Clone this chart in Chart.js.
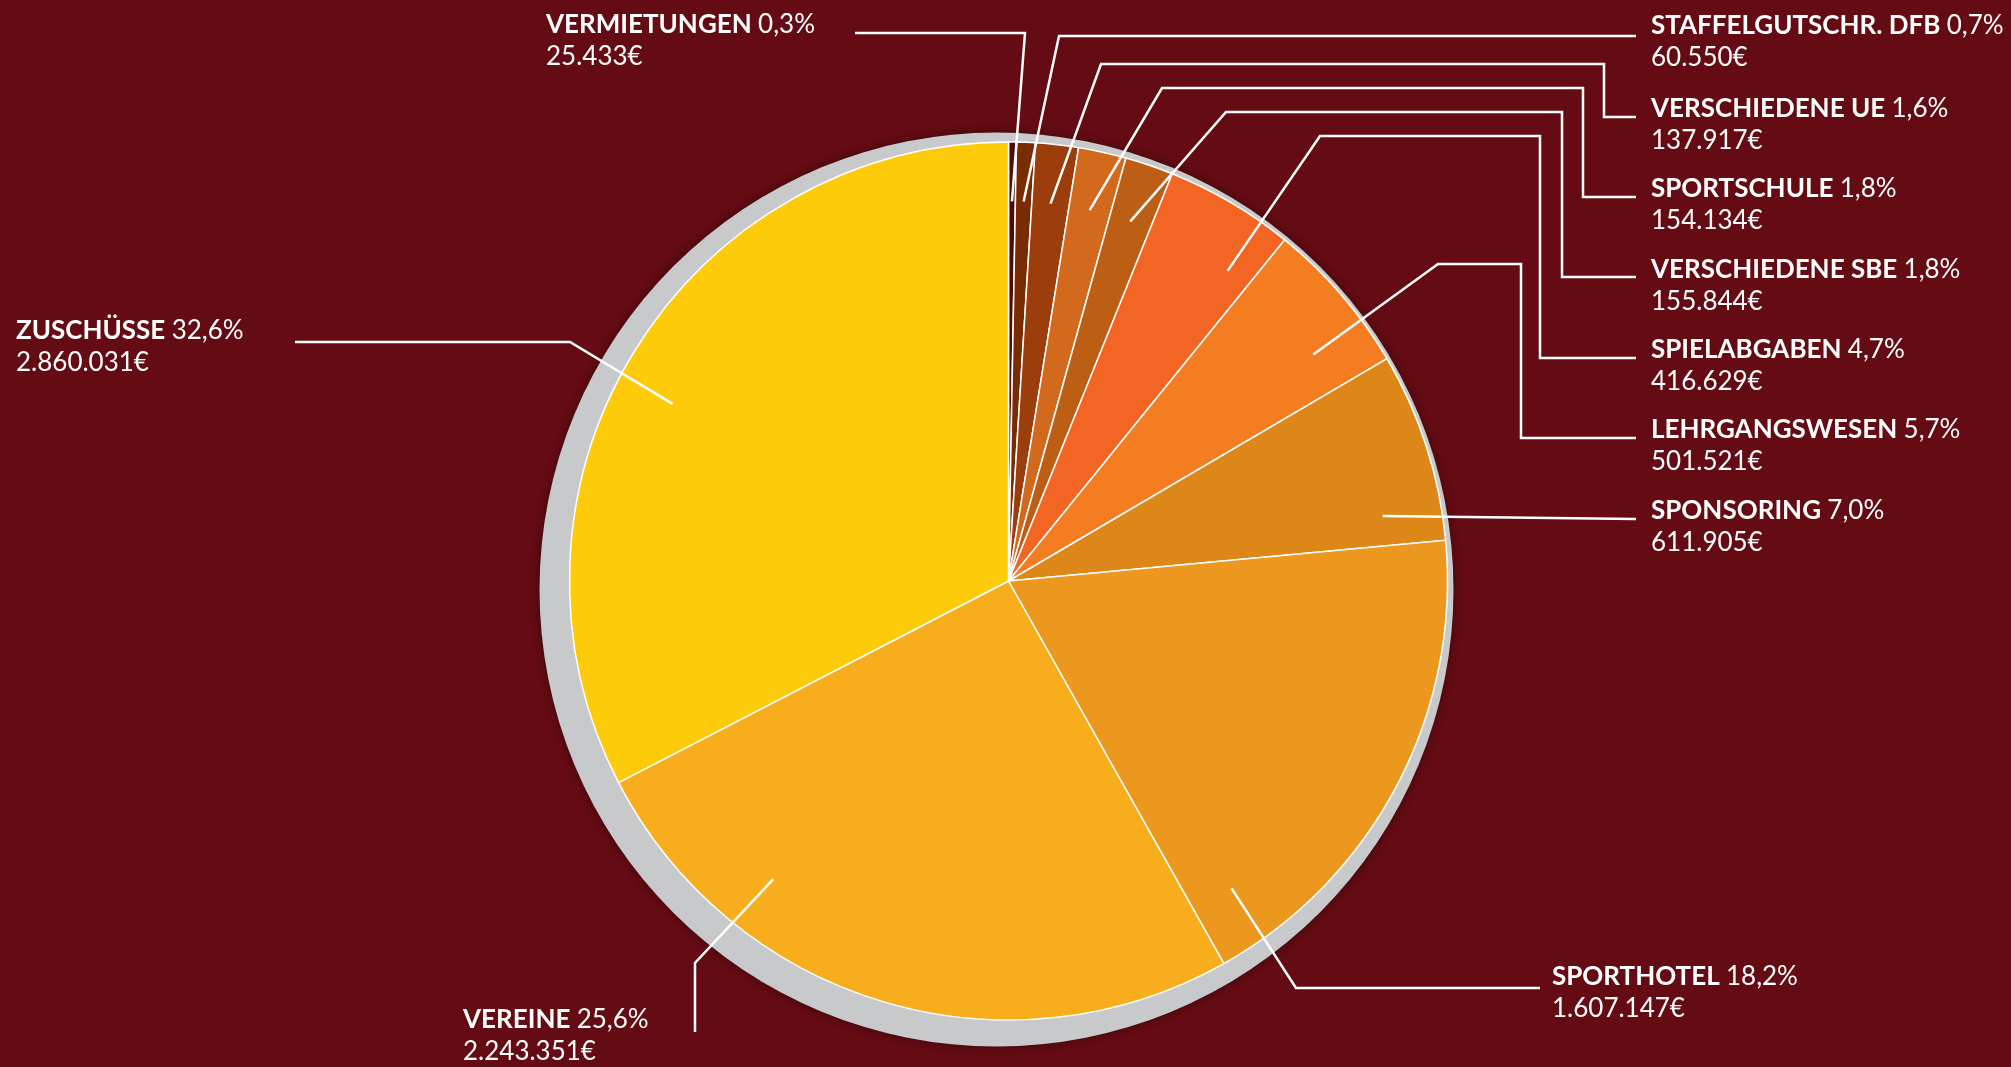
<!DOCTYPE html>
<html>
<head>
<meta charset="utf-8">
<script src="https://cdn.jsdelivr.net/npm/chart.js@4.4.1/dist/chart.umd.min.js"></script>
<style>
  html, body { margin: 0; padding: 0; background: #640b13; }
  #wrap { width: 2011px; height: 1067px; }
</style>
</head>
<body>
<div id="wrap"><canvas id="myChart" width="2011" height="1067"></canvas></div>
<script>
const categories = ['VERMIETUNGEN', 'STAFFELGUTSCHR. DFB', 'VERSCHIEDENE UE', 'SPORTSCHULE', 'VERSCHIEDENE SBE',
    'SPIELABGABEN', 'LEHRGANGSWESEN', 'SPONSORING', 'SPORTHOTEL', 'VEREINE', 'ZUSCHÜSSE'];
const amounts = [25433, 60550, 137917, 154134, 155844, 416629, 501521, 611905, 1607147, 2243351, 2860031];
const percentLabels = ['0,3%', '0,7%', '1,6%', '1,8%', '1,8%', '4,7%', '5,7%', '7,0%', '18,2%', '25,6%', '32,6%'];
const colors = ['#520a02', '#792c02', '#9b3e0c', '#d3691c', '#bd5e15', '#f26523', '#f57d21',
    '#dd8719', '#ec971d', '#f8ae1c', '#fecb0b'];

// label placement: text position, where on the slice the leader starts, and the leader's elbows
const labelLayout = [
    { x: 546, y: 33, frac: 0.5, route: [[1025, 33], [855, 33]] },
    { x: 1651, y: 34, frac: 0.5, route: [[1059, 36], [1636, 36]] },
    { x: 1651, y: 117, frac: 0.5, route: [[1101, 64], [1604, 64], [1604, 117], [1636, 117]] },
    { x: 1651, y: 197, frac: 0.5, route: [[1162, 88], [1583, 88], [1583, 197], [1636, 197]] },
    { x: 1651, y: 278, frac: 0.5, route: [[1226, 112], [1562, 112], [1562, 277], [1636, 277]] },
    { x: 1651, y: 358, frac: 0.78, route: [[1320, 136], [1540, 136], [1540, 358], [1636, 358]] },
    { x: 1651, y: 438, frac: 0.7, route: [[1438, 264], [1521, 264], [1521, 438], [1636, 438]] },
    { x: 1651, y: 519, frac: 0.82, route: [[1636, 519]] },
    { x: 1552, y: 985, frac: 0.9, route: [[1296, 988], [1540, 988]] },
    { x: 463, y: 1028, frac: 0.735, route: [[695, 963], [695, 1032]] },
    { x: 16, y: 339, frac: 0.47, route: [[570, 342], [295, 342]] }
];

function euro(v) {
    return String(v).replace(/\B(?=(\d{3})+(?!\d))/g, '.') + '€';
}

const ringPlugin = {
    id: 'ring',
    beforeDatasetsDraw(chart) {
        const arc = chart.getDatasetMeta(0).data[0];
        if (!arc) return;
        const ctx = chart.ctx;
        ctx.save();
        ctx.shadowColor = 'rgba(0,0,0,0.45)';
        ctx.shadowBlur = 8;
        ctx.beginPath();
        ctx.arc(arc.x - 12, arc.y + 8.5, arc.outerRadius + 18, 0, Math.PI * 2);
        ctx.fillStyle = '#c8c9ca';
        ctx.fill();
        ctx.restore();
    }
};

const labelPlugin = {
    id: 'labels',
    afterDatasetsDraw(chart) {
        const ctx = chart.ctx;
        const arcs = chart.getDatasetMeta(0).data;
        ctx.save();
        ctx.strokeStyle = '#ffffff';
        ctx.lineWidth = 2.5;
        ctx.lineJoin = 'miter';
        arcs.forEach((arc, i) => {
            const lay = labelLayout[i];
            const a = arc.startAngle + lay.frac * (arc.endAngle - arc.startAngle);
            const r = arc.outerRadius * 0.865;
            ctx.beginPath();
            ctx.moveTo(arc.x + r * Math.cos(a), arc.y + r * Math.sin(a));
            lay.route.forEach(p => ctx.lineTo(p[0], p[1]));
            ctx.stroke();
        });
        ctx.fillStyle = '#ffffff';
        ctx.textBaseline = 'alphabetic';
        categories.forEach((name, i) => {
            const lay = labelLayout[i];
            ctx.font = 'bold 26px Lato';
            ctx.fillText(name, lay.x, lay.y);
            const w = ctx.measureText(name + ' ').width;
            ctx.font = '26px Lato';
            ctx.fillText(percentLabels[i], lay.x + w, lay.y);
            ctx.fillText(euro(amounts[i]), lay.x, lay.y + 32);
        });
        ctx.restore();
    }
};

const ctx = document.getElementById('myChart').getContext('2d');

const myPieChart = new Chart(ctx, {
    type: 'pie',
    data: {
        labels: categories,
        datasets: [{
            data: amounts,
            backgroundColor: colors,
            borderColor: '#ffffff',
            borderWidth: 1.5
        }]
    },
    options: {
        responsive: false,
        animation: false,
        radius: 439,
        layout: {
            padding: { left: 6, right: 0, top: 95, bottom: 0 }
        },
        plugins: {
            legend: { display: false },
            tooltip: { enabled: false }
        }
    },
    plugins: [ringPlugin, labelPlugin]
});
</script>
</body>
</html>
